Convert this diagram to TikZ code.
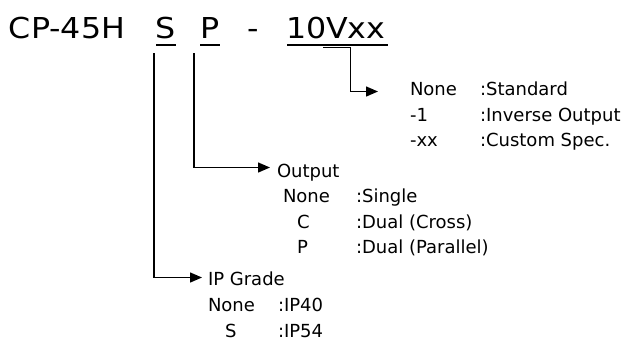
\documentclass[tikz,border=0pt]{standalone}
\usepackage{fontspec}
\setmainfont{DejaVu Sans}[FakeStretch=1.1]
\newfontfamily\smallfont{DejaVu Sans}
\usetikzlibrary{arrows.meta}
\begin{document}
\begin{tikzpicture}[x=1pt,y=-1pt,
  every node/.style={inner sep=0pt,outer sep=0pt,anchor=base west},
  title/.style={font=\fontsize{28.8}{30}\selectfont},
  small/.style={font=\smallfont\fontsize{18}{19}\selectfont},
  uline/.style={line width=2pt},
  conn/.style={line width=1.4pt},
  arr/.style={conn,-{Triangle[length=12pt,width=10pt]}}]
\useasboundingbox (0,0) rectangle (628,343);
% title
\node[title] (cp) at (9,38) {CP-45H};
\node[title,anchor=base] (s) at (166,38) {S};
\node[title,anchor=base] (p) at (210,38) {P};
\node[title,anchor=base] (dash) at (253,38) {-};
\node[title] (v) at (286,38) {10Vxx};
\draw[uline] (156,44.7) -- (176,44.7);
\draw[uline] (200,44.7) -- (220,44.7);
\draw[uline] (287,44.7) -- (388,44.7);
% group 1
\node[small] (g1a) at (410,95.5) {None};
\node[small] (g1b) at (410,121) {-1};
\node[small] (g1c) at (410,146.5) {-xx};
\node[small] (g1av) at (480,95.5) {:Standard};
\node[small] (g1bv) at (480,121) {:Inverse Output};
\node[small] (g1cv) at (480,146.5) {:Custom Spec.};
% group 2
\node[small] (out) at (277,177) {Output};
\node[small] (g2a) at (283,202.5) {None};
\node[small] (g2b) at (297,228) {C};
\node[small] (g2c) at (297,253.5) {P};
\node[small] (g2av) at (356,202.5) {:Single};
\node[small] (g2bv) at (356,228) {:Dual (Cross)};
\node[small] (g2cv) at (356,253.5) {:Dual (Parallel)};
% group 3
\node[small] (ip) at (208,285) {IP Grade};
\node[small] (g3a) at (208,311) {None};
\node[small] (g3b) at (225,337) {S};
\node[small] (g3av) at (278,311) {:IP40};
\node[small] (g3bv) at (278,337) {:IP54};
% connectors
\coordinate (vstart) at (323,47.5);
\coordinate (vcorner) at (350.5,47.5);
\coordinate (vend) at (378,91.5);
\draw[arr] (vstart) -- (vcorner) |- (vend);
\coordinate (pstart) at (194,53);
\coordinate (pend) at (270,167.5);
\draw[arr] (pstart) |- (pend);
\coordinate (sstart) at (154,53);
\coordinate (send) at (202,277.5);
\draw[arr] (sstart) |- (send);
\end{tikzpicture}
\end{document}
